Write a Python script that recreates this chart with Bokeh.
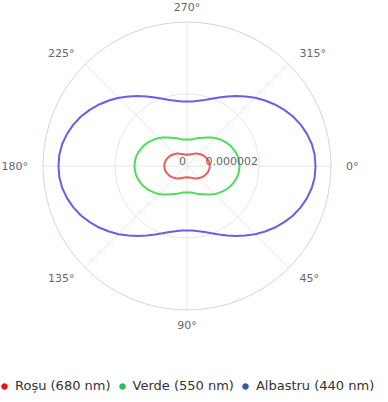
import numpy as np
from bokeh.plotting import figure
from bokeh.models import Range1d, Legend, LegendItem, ColumnDataSource
from bokeh.core.properties import value
from bokeh.embed import file_html
from bokeh.resources import INLINE

# ---- data (intensity, in units of 1e-6), angle step 5 degrees ----
angles = list(range(0, 360, 5))
UNIT = 1e-6
red_vals = [0.63, 0.63, 0.62, 0.61, 0.59, 0.57, 0.55, 0.53, 0.50, 0.47, 0.45, 0.42, 0.39, 0.37, 0.35, 0.34, 0.32, 0.32, 0.31,
            0.32, 0.32, 0.34, 0.35, 0.37, 0.39, 0.42, 0.45, 0.47, 0.50, 0.53, 0.55, 0.57, 0.59, 0.61, 0.62, 0.63, 0.63,
            0.63, 0.62, 0.61, 0.59, 0.57, 0.55, 0.53, 0.50, 0.47, 0.45, 0.42, 0.39, 0.37, 0.35, 0.34, 0.32, 0.32, 0.31,
            0.32, 0.32, 0.34, 0.35, 0.37, 0.39, 0.42, 0.45, 0.47, 0.50, 0.53, 0.55, 0.57, 0.59, 0.61, 0.62, 0.63]
green_vals = [1.46, 1.45, 1.44, 1.41, 1.37, 1.33, 1.28, 1.22, 1.16, 1.10, 1.03, 0.97, 0.91, 0.86, 0.82, 0.78, 0.75, 0.74, 0.73,
              0.74, 0.75, 0.78, 0.82, 0.86, 0.91, 0.97, 1.03, 1.10, 1.16, 1.22, 1.28, 1.33, 1.37, 1.41, 1.44, 1.45, 1.46,
              1.45, 1.44, 1.41, 1.37, 1.33, 1.28, 1.22, 1.16, 1.10, 1.03, 0.97, 0.91, 0.86, 0.82, 0.78, 0.75, 0.74, 0.73,
              0.74, 0.75, 0.78, 0.82, 0.86, 0.91, 0.97, 1.03, 1.10, 1.16, 1.22, 1.28, 1.33, 1.37, 1.41, 1.44, 1.45]
blue_vals = [3.57, 3.56, 3.52, 3.45, 3.36, 3.25, 3.12, 2.98, 2.83, 2.68, 2.52, 2.37, 2.23, 2.10, 1.99, 1.90, 1.84, 1.80, 1.79,
             1.80, 1.84, 1.90, 1.99, 2.10, 2.23, 2.37, 2.52, 2.68, 2.83, 2.98, 3.12, 3.25, 3.36, 3.45, 3.52, 3.56, 3.57,
             3.56, 3.52, 3.45, 3.36, 3.25, 3.12, 2.98, 2.83, 2.68, 2.52, 2.37, 2.23, 2.10, 1.99, 1.90, 1.84, 1.80, 1.79,
             1.80, 1.84, 1.90, 1.99, 2.10, 2.23, 2.37, 2.52, 2.68, 2.83, 2.98, 3.12, 3.25, 3.36, 3.45, 3.52, 3.56]
series_names = ["Roșu (680 nm)", "Verde (550 nm)", "Albastru (440 nm)"]
line_colors = ["#ee5c5c", "#4fdc5c", "#6a5ee8"]
legend_colors = ["#e8121c", "#2fb85e", "#3a58a6"]

angle_ticks = [0, 45, 90, 135, 180, 225, 270, 315]
angle_labels = ["0°", "45°", "90°", "135°", "180°", "225°", "270°", "315°"]
radial_ticks = [0, 0.000002, 0.000004]
radial_labels = ["0", "0.000002", ""]
r_max = 0.000004

# ---- geometry ----
W, H = 380, 394
cx_px, cy_px = 186.5, 165.5   # center from top-left of figure
R_px = 144.0
ppu = R_px / (r_max / UNIT)   # pixels per data unit

x_range = Range1d(-cx_px / ppu, (W - cx_px) / ppu)
y_range = Range1d(-(H - cy_px) / ppu, cy_px / ppu)

p = figure(width=W, height=H, x_range=x_range, y_range=y_range,
           x_axis_type=None, y_axis_type=None, toolbar_location=None,
           output_backend="svg", min_border=0, outline_line_color=None)
p.background_fill_color = "white"
p.border_fill_color = "white"


def polar(theta_deg, r):
    t = np.deg2rad(np.asarray(theta_deg, dtype=float))
    r = np.asarray(r, dtype=float)
    return r * np.cos(t), -r * np.sin(t)


rmax_u = r_max / UNIT
# spokes
for a in angle_ticks:
    x1, y1 = polar([a], [rmax_u])
    p.line([0, x1[0]], [0, y1[0]], line_color="#e6e6e6", line_width=1)
# inner grid circles
for rt in radial_ticks[1:-1]:
    p.circle(x=[0], y=[0], radius=rt / UNIT, fill_color=None,
             line_color="#e6e6e6", line_width=1)
# outer circle
p.circle(x=[0], y=[0], radius=rmax_u, fill_color=None,
         line_color="#ccd6eb", line_width=1)

# series
for vals, col in zip([red_vals, green_vals, blue_vals], line_colors):
    th = angles + [angles[0]]
    rv = vals + [vals[0]]
    xs, ys = polar(th, rv)
    p.line(xs, ys, line_color=col, line_width=2, line_join="round")

# angle labels
lab_r = 159.0 / ppu
xs, ys = polar(angle_ticks, [lab_r] * len(angle_ticks))
aligns = []
for a in angle_ticks:
    c = np.cos(np.deg2rad(a))
    aligns.append("left" if c > 0.01 else ("right" if c < -0.01 else "center"))
src = ColumnDataSource(dict(x=xs, y=ys, t=angle_labels, al=aligns))
p.text(x="x", y="y", text="t", text_align="al", text_baseline="middle",
       text_font=value("DejaVu Sans"), text_font_size="11px",
       text_color="#666666", source=src)

# radial labels
rl_x = [rt / UNIT for rt in radial_ticks[:2]]
p.text(x=rl_x, y=[0, 0], text=radial_labels[:2], text_align="right",
       text_baseline="middle", x_offset=-1, y_offset=-5,
       text_font=value("DejaVu Sans"), text_font_size="11px",
       text_color="#666666")

# legend (marker renderers carry no visible point)
items = []
for name, col in zip(series_names, legend_colors):
    r = p.scatter(x=[np.nan], y=[np.nan], marker="circle", size=6,
                  fill_color=col, line_color=col)
    items.append(LegendItem(label=name, renderers=[r]))
legend = Legend(items=items, orientation="horizontal", location=(-3, 1),
                label_text_font="DejaVu Sans", label_text_font_size="13px",
                label_text_color="#333333", glyph_width=14, glyph_height=14,
                label_height=14, label_standoff=4, spacing=4, padding=0,
                margin=0, border_line_color=None, background_fill_alpha=0)
p.add_layout(legend)

open("out.html", "w").write(file_html(p, INLINE))
